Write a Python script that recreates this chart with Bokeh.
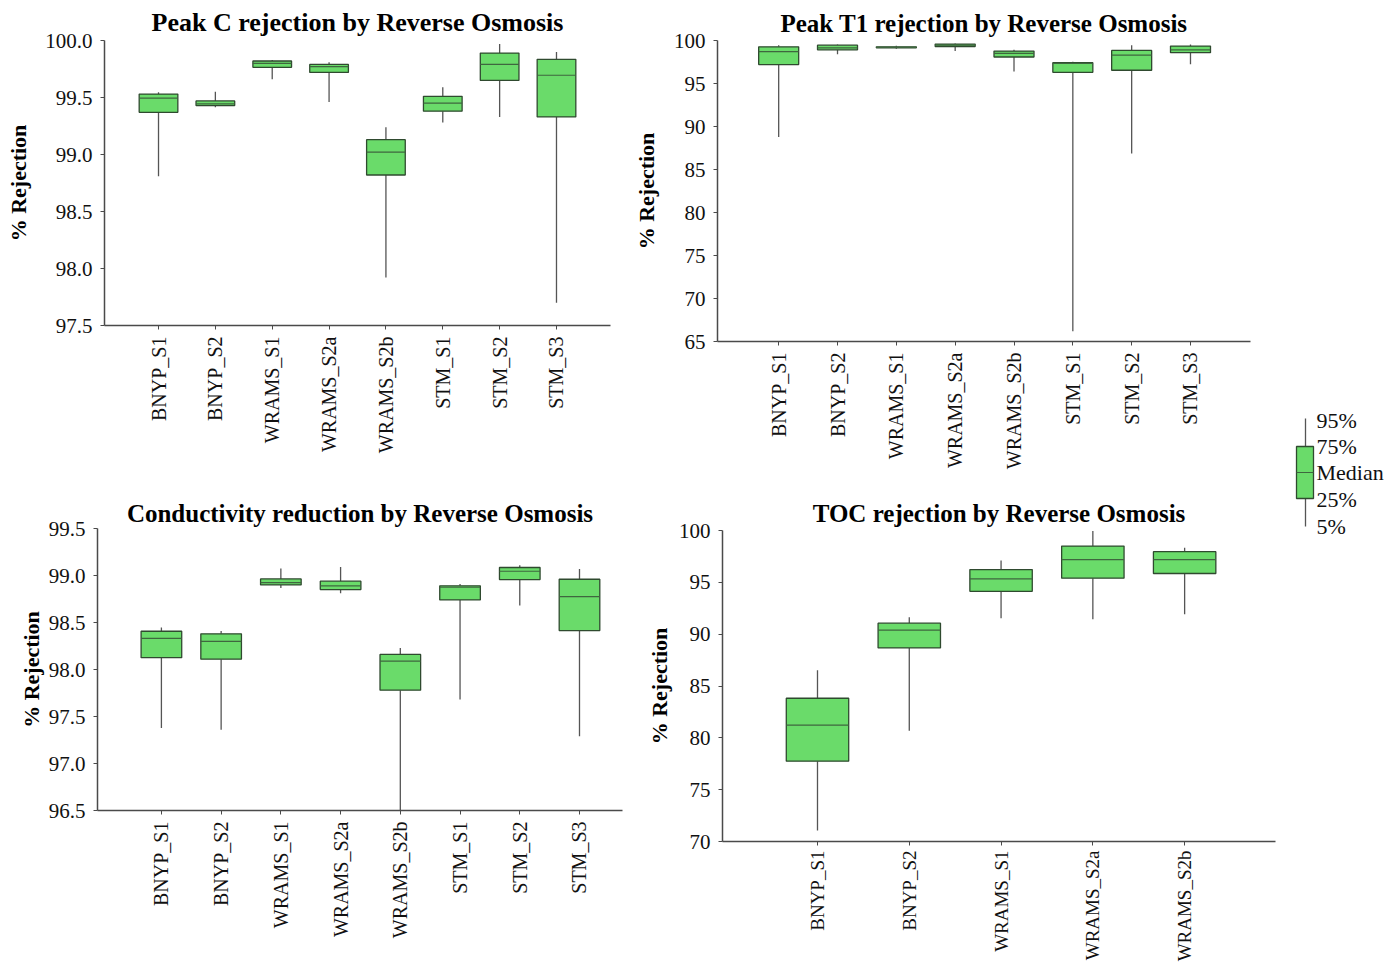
import math
import numpy as np
from bokeh.plotting import figure
from bokeh.layouts import row, column
from bokeh.models import FixedTicker, Range1d, ColumnDataSource, NumeralTickFormatter, Label
from bokeh.embed import file_html
from bokeh.resources import INLINE

# ---------------- data ----------------
cats8 = ["BNYP_S1", "BNYP_S2", "WRAMS_S1", "WRAMS_S2a", "WRAMS_S2b", "STM_S1", "STM_S2", "STM_S3"]
cats5 = ["BNYP_S1", "BNYP_S2", "WRAMS_S1", "WRAMS_S2a", "WRAMS_S2b"]

peakc_p5 = [98.81, 99.415, 99.66, 99.46, 97.92, 99.28, 99.33, 97.70]
peakc_p25 = [99.37, 99.43, 99.765, 99.72, 98.82, 99.38, 99.65, 99.33]
peakc_med = [99.495, 99.445, 99.80, 99.77, 99.02, 99.45, 99.79, 99.695]
peakc_p75 = [99.53, 99.47, 99.82, 99.79, 99.13, 99.51, 99.89, 99.835]
peakc_p95 = [99.545, 99.55, 99.83, 99.81, 99.24, 99.59, 99.97, 99.90]

peakt1_p5 = [88.77, 98.4, 99.04, 98.77, 96.4, 66.2, 86.85, 97.23]
peakt1_p25 = [97.2, 98.92, 99.15, 99.3, 98.08, 96.3, 96.54, 98.58]
peakt1_med = [98.7, 99.15, 99.2, 99.46, 98.5, 97.35, 98.3, 98.92]
peakt1_p75 = [99.27, 99.46, 99.27, 99.58, 98.77, 97.42, 98.85, 99.35]
peakt1_p95 = [99.46, 99.54, 99.4, 99.65, 98.92, 97.54, 99.46, 99.54]

cond_p5 = [97.377, 97.36, 98.868, 98.81, 96.5, 97.68, 98.68, 97.29]
cond_p25 = [98.126, 98.11, 98.90, 98.85, 97.78, 98.74, 98.957, 98.414]
cond_med = [98.332, 98.30, 98.925, 98.89, 98.09, 98.875, 99.045, 98.776]
cond_p75 = [98.407, 98.38, 98.964, 98.94, 98.16, 98.89, 99.085, 98.96]
cond_p95 = [98.446, 98.41, 99.074, 99.09, 98.23, 98.91, 99.11, 99.07]

toc_p5 = [71.05, 80.69, 91.54, 91.45, 91.92]
toc_p25 = [77.75, 88.67, 94.13, 95.4, 95.85]
toc_med = [81.23, 90.39, 95.34, 97.19, 97.19]
toc_p75 = [83.82, 91.06, 96.23, 98.5, 97.96]
toc_p95 = [86.53, 91.64, 97.1, 99.94, 98.34]

legend_labels = ["95%", "75%", "Median", "25%", "5%"]

# ---------------- style ----------------
FONT = "Liberation Serif"
BOX_FILL = "#6adb6a"
BOX_LINE = "#2f4a2f"
MED_LINE = "#3f663f"
WHISK = "#555555"
AXIS = "#4a4a4a"
BOXW = 0.68


def make_panel(title, cats, p5, p25, med, p75, p95, yr, yticks, fmt,
               width, height, bl, br, bt, bb, xr,
               title_size="25px", title_standoff=7, ylab_standoff=14,
               xlab_size="20px", xlab_standoff=7):
    x = np.arange(1, len(cats) + 1)
    src = ColumnDataSource(dict(
        x=x, p5=p5, p25=p25, med=med, p75=p75, p95=p95,
        xl=x - BOXW / 2, xr=x + BOXW / 2))
    p = figure(width=width, height=height, x_range=Range1d(*xr), y_range=Range1d(*yr),
               output_backend="svg", toolbar_location=None,
               min_border_left=bl, min_border_right=br, min_border_top=bt, min_border_bottom=bb)
    try:
        p.frame_align = False
    except Exception:
        pass
    p.segment(x0="x", y0="p5", x1="x", y1="p25", source=src, line_color=WHISK, line_width=1.3)
    p.segment(x0="x", y0="p75", x1="x", y1="p95", source=src, line_color=WHISK, line_width=1.3)
    p.vbar(x="x", bottom="p25", top="p75", width=BOXW, source=src,
           fill_color=BOX_FILL, line_color=BOX_LINE, line_width=1.3)
    p.segment(x0="xl", y0="med", x1="xr", y1="med", source=src, line_color=MED_LINE, line_width=1.2)

    p.title.text = title
    p.title.text_font = FONT
    p.title.text_font_size = title_size
    p.title.text_font_style = "bold"
    p.title.align = "center"
    p.title.text_color = "#000000"
    p.title.standoff = title_standoff

    p.grid.visible = False
    p.outline_line_color = None

    p.yaxis.ticker = FixedTicker(ticks=yticks)
    p.yaxis.formatter = NumeralTickFormatter(format=fmt)
    p.yaxis.axis_label = "% Rejection"
    p.yaxis.axis_label_text_font = FONT
    p.yaxis.axis_label_text_font_style = "bold"
    p.yaxis.axis_label_text_font_size = "22px"
    p.yaxis.axis_label_text_color = "#000000"
    p.yaxis.axis_label_standoff = ylab_standoff

    p.xaxis.ticker = FixedTicker(ticks=list(x))
    p.xaxis.major_label_overrides = {int(i): c for i, c in zip(x, cats)}
    p.xaxis.major_label_orientation = math.pi / 2

    for ax in (p.xaxis, p.yaxis):
        ax.axis_line_color = AXIS
        ax.axis_line_width = 1.5
        ax.major_tick_line_color = AXIS
        ax.major_tick_in = 0
        ax.major_tick_out = 4
        ax.minor_tick_line_color = None
        ax.major_label_text_font = FONT
        ax.major_label_text_color = "#111111"
    p.yaxis.major_label_text_font_size = "21px"
    p.yaxis.major_label_standoff = 8
    p.xaxis.major_label_text_font_size = xlab_size
    p.xaxis.major_label_standoff = xlab_standoff
    return p


p1 = make_panel("Peak C rejection by Reverse Osmosis", cats8,
                peakc_p5, peakc_p25, peakc_med, peakc_p75, peakc_p95,
                (97.5, 100.0), [97.5, 98.0, 98.5, 99.0, 99.5, 100.0], "0.0",
                630, 472, 104, 20, 40, 147, (0.05, 8.95),
                title_size="26px", ylab_standoff=11)
p2 = make_panel("Peak T1 rejection by Reverse Osmosis", cats8,
                peakt1_p5, peakt1_p25, peakt1_med, peakt1_p75, peakt1_p95,
                (65, 100), [65, 70, 75, 80, 85, 90, 95, 100], "0",
                650, 472, 87, 30, 40, 130, (-0.04, 9.02), ylab_standoff=12)
p3 = make_panel("Conductivity reduction by Reverse Osmosis", cats8,
                cond_p5, cond_p25, cond_med, cond_p75, cond_p95,
                (96.5, 99.5), [96.5, 97.0, 97.5, 98.0, 98.5, 99.0, 99.5], "0.0",
                630, 492, 97, 8, 56, 154, (-0.07, 8.72),
                title_standoff=4, ylab_standoff=2)
p4 = make_panel("TOC rejection by Reverse Osmosis", cats5,
                toc_p5, toc_p25, toc_med, toc_p75, toc_p95,
                (70, 100), [70, 75, 80, 85, 90, 95, 100], "0",
                650, 492, 92, 5, 58, 122, (-0.035, 5.99),
                ylab_standoff=4, xlab_size="19px", xlab_standoff=5)

# ---------------- legend key ----------------
leg = figure(width=110, height=950, x_range=Range1d(0, 110), y_range=Range1d(950, 0),
             output_backend="svg", toolbar_location=None, x_axis_type=None, y_axis_type=None,
             min_border=0)
leg.grid.visible = False
leg.outline_line_color = None
leg.segment(x0=[25], y0=[418], x1=[25], y1=[526], line_color=WHISK, line_width=1.3)
leg.quad(left=[16], right=[33], top=[446], bottom=[498], fill_color=BOX_FILL,
         line_color=BOX_LINE, line_width=1.3)
leg.segment(x0=[16], y0=[472], x1=[33], y1=[472], line_color=MED_LINE, line_width=1.2)
for lab, yy in zip(legend_labels, [420, 446, 472, 499, 526]):
    leg.add_layout(Label(x=36, y=yy, text=lab, text_font=FONT, text_font_size="22px",
                         text_baseline="middle", text_color="#111111"))

layout = row(column(p1, p3), column(p2, p4), leg)

open("out.html", "w").write(file_html(layout, INLINE))
